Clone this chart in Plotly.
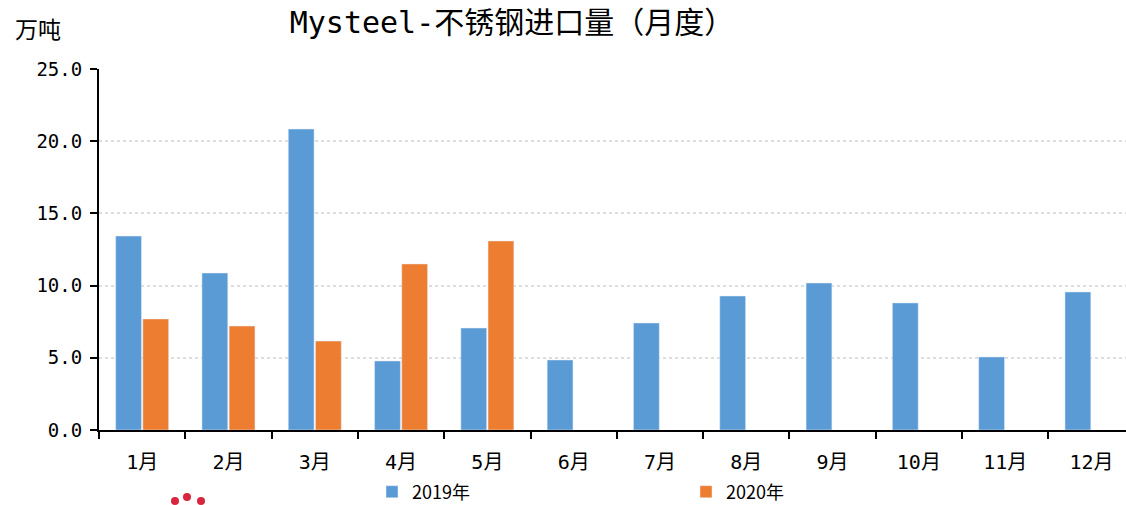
import plotly.graph_objects as go

months = ["1月", "2月", "3月", "4月", "5月", "6月", "7月", "8月", "9月", "10月", "11月", "12月"]
imports_2019 = [13.43, 10.87, 20.84, 4.78, 7.06, 4.85, 7.41, 9.28, 10.18, 8.80, 5.06, 9.56]
imports_2020 = [7.69, 7.20, 6.16, 11.50, 13.09]
y_ticks = [0, 5, 10, 15, 20, 25]

MONO = "DejaVu Sans Mono, Noto Sans CJK SC, sans-serif"
CJK = "Noto Sans CJK SC, sans-serif"

# plot area in pixels: x 99..1126, y 69..430
PW, PH = 1027, 361


def px_x(x):
    return (x - 99) / PW


def px_y(y):
    return (430 - y) / PH


fig = go.Figure()
fig.add_trace(go.Bar(x=months, y=imports_2019, name="2019年", marker_color="#5B9BD5"))
fig.add_trace(go.Bar(x=months[:len(imports_2020)], y=imports_2020, name="2020年", marker_color="#ED7D31"))

fig.update_layout(
    width=1126,
    height=505,
    margin=dict(l=99, r=0, t=69, b=75, autoexpand=False),
    paper_bgcolor="white",
    plot_bgcolor="white",
    barmode="group",
    bargap=0.37,
    bargroupgap=0.05,
    title=dict(
        text="Mysteel-不锈钢进口量（月度）",
        x=512 / 1126, xref="container", xanchor="center",
        y=1 - 22 / 505, yref="container", yanchor="middle",
        font=dict(family=MONO, size=30, color="black"),
    ),
    legend=dict(
        orientation="h",
        xref="container", yref="container",
        x=372 / 1126, xanchor="left",
        y=1 - 492 / 505, yanchor="middle",
        font=dict(family=CJK, size=18, color="black"),
        entrywidth=269,
        entrywidthmode="pixels",
        itemwidth=30,
    ),
    annotations=[
        dict(
            text="万吨", xref="paper", yref="paper",
            x=px_x(13), xanchor="left",
            y=px_y(28), yanchor="middle",
            showarrow=False, font=dict(family=CJK, size=23, color="black"),
        )
    ],
    shapes=[
        dict(type="circle", xref="paper", yref="paper", fillcolor="#D7263D", line_width=0,
             x0=px_x(cx - 4), x1=px_x(cx + 4), y0=px_y(cy + 4), y1=px_y(cy - 4))
        for cx, cy in [(175, 501), (187, 497), (201, 501)]
    ],
)

fig.update_xaxes(
    range=[-0.5, 11.4],
    automargin=False,
    showline=True, linecolor="black", linewidth=2,
    ticks="outside", tickson="boundaries", ticklen=7, tickwidth=2, tickcolor="black",
    ticklabelstandoff=13,
    tickfont=dict(family=MONO, size=20, color="black"),
    showgrid=False,
)
fig.update_yaxes(
    range=[0, 25],
    automargin=False,
    tickvals=y_ticks,
    ticktext=[f"{v:.1f}" for v in y_ticks],
    showline=True, linecolor="black", linewidth=2,
    ticks="outside", ticklen=7, tickwidth=2, tickcolor="black",
    ticklabelstandoff=4,
    tickfont=dict(family=MONO, size=19, color="black"),
    showgrid=True, gridcolor="#DDDDDD", griddash="dot", gridwidth=2,
    zeroline=False,
)

# drop the page's default body margin so the figure sits at the window's corner
fig.write_html(
    "out.html",
    config={"displayModeBar": False},
    post_script="document.body.style.margin = '0';",
)
